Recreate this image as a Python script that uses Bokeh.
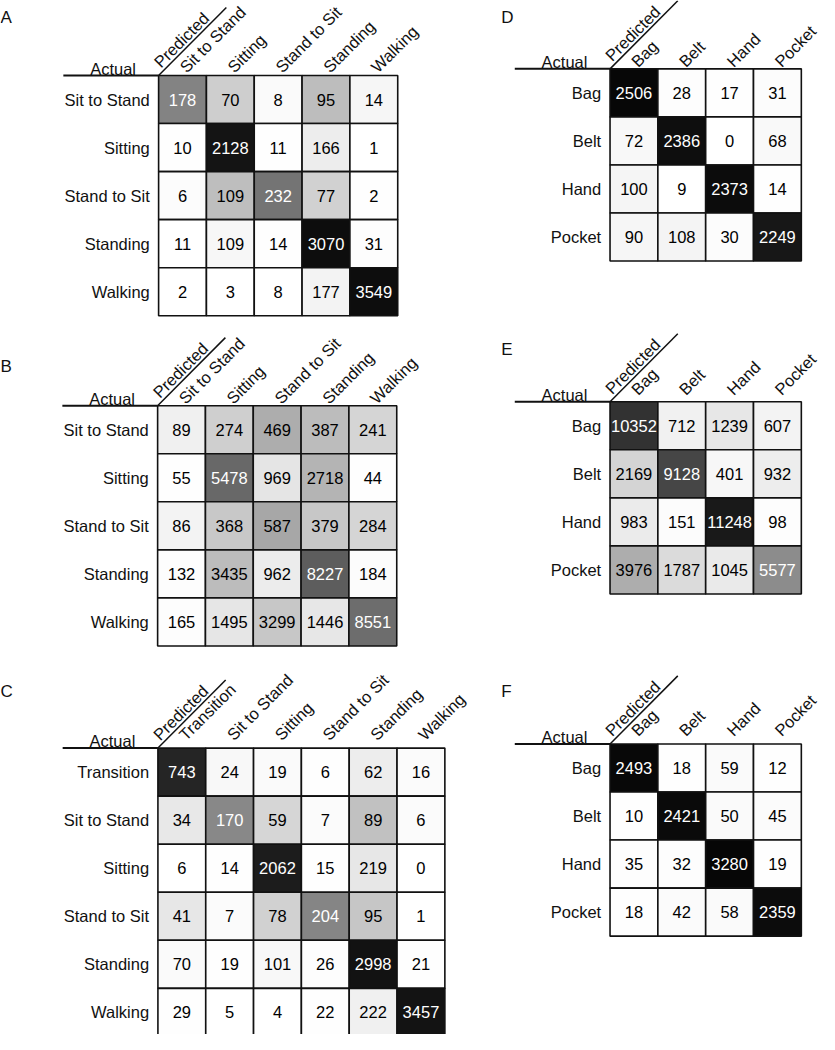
import math
from bokeh.plotting import figure
from bokeh.models import ColumnDataSource, Range1d, LinearColorMapper
from bokeh.core.properties import value
from bokeh.embed import file_html
from bokeh.resources import INLINE

# ---------------- data ----------------
activity5 = ["Sit to Stand", "Sitting", "Stand to Sit", "Standing", "Walking"]
activity6 = ["Transition", "Sit to Stand", "Sitting", "Stand to Sit", "Standing", "Walking"]
placement = ["Bag", "Belt", "Hand", "Pocket"]

counts_A = [[178, 70, 8, 95, 14],
            [10, 2128, 11, 166, 1],
            [6, 109, 232, 77, 2],
            [11, 109, 14, 3070, 31],
            [2, 3, 8, 177, 3549]]
counts_B = [[89, 274, 469, 387, 241],
            [55, 5478, 969, 2718, 44],
            [86, 368, 587, 379, 284],
            [132, 3435, 962, 8227, 184],
            [165, 1495, 3299, 1446, 8551]]
counts_C = [[743, 24, 19, 6, 62, 16],
            [34, 170, 59, 7, 89, 6],
            [6, 14, 2062, 15, 219, 0],
            [41, 7, 78, 204, 95, 1],
            [70, 19, 101, 26, 2998, 21],
            [29, 5, 4, 22, 222, 3457]]
counts_D = [[2506, 28, 17, 31],
            [72, 2386, 0, 68],
            [100, 9, 2373, 14],
            [90, 108, 30, 2249]]
counts_E = [[10352, 712, 1239, 607],
            [2169, 9128, 401, 932],
            [983, 151, 11248, 98],
            [3976, 1787, 1045, 5577]]
counts_F = [[2493, 18, 59, 12],
            [10, 2421, 50, 45],
            [35, 32, 3280, 19],
            [18, 42, 58, 2359]]

# ---------------- layout (reference pixel space) ----------------
FONT = value("Liberation Sans")
FS = "16.5px"
CELL = 48.7
INK = "#111111"

panels = [
    dict(letter="A", labels=activity5, counts=counts_A, gx=163.0, gy=76.0, lx=2, ly=17.5, gap=6),
    dict(letter="B", labels=activity5, counts=counts_B, gx=162.0, gy=410.7, lx=2, ly=370.5, gap=5),
    dict(letter="C", labels=activity6, counts=counts_C, gx=162.3, gy=757.7, lx=2, ly=700.0, gap=11),
    dict(letter="D", labels=placement, counts=counts_D, gx=622.7, gy=69.3, lx=512, ly=17.0, gap=5),
    dict(letter="E", labels=placement, counts=counts_E, gx=622.7, gy=406.7, lx=512, ly=353.5, gap=10),
    dict(letter="F", labels=placement, counts=counts_F, gx=622.7, gy=753.5, lx=512, ly=700.0, gap=11),
]

grays = ["#%02x%02x%02x" % (v, v, v) for v in range(255, -1, -1)]
mapper = LinearColorMapper(palette=grays, low=0.0, high=1.0)

p = figure(width=819, height=1034, x_range=Range1d(2, 836), y_range=Range1d(1048, 0),
           output_backend="svg", toolbar_location=None, min_border=0,
           x_axis_type=None, y_axis_type=None)
p.grid.visible = False
p.outline_line_color = None
p.background_fill_color = "white"
p.border_fill_color = "white"

ang = math.pi / 4

for pan in panels:
    labels = pan["labels"]
    counts = pan["counts"]
    n = len(labels)
    gx, gy = pan["gx"], pan["gy"]

    xs, ys, fr, txt, tc = [], [], [], [], []
    for i in range(n):
        tot = float(sum(counts[i]))
        for j in range(n):
            f = counts[i][j] / tot
            xs.append(gx + (j + 0.5) * CELL)
            ys.append(gy + (i + 0.5) * CELL)
            fr.append(f)
            txt.append(str(counts[i][j]))
            tc.append("white" if f > 0.4 else "black")
    src = ColumnDataSource(dict(x=xs, y=ys, frac=fr, txt=txt, tc=tc))
    p.rect(x="x", y="y", width=CELL, height=CELL, source=src,
           fill_color={"field": "frac", "transform": mapper},
           line_color=INK, line_width=1.6)
    p.text(x="x", y="y", text="txt", source=src, text_color="tc",
           text_align="center", text_baseline="middle",
           text_font=FONT, text_font_size=FS)

    # row labels (Actual)
    rsrc = ColumnDataSource(dict(x=[gx - 9] * n,
                                 y=[gy + (i + 0.5) * CELL for i in range(n)],
                                 t=labels))
    p.text(x="x", y="y", text="t", source=rsrc, text_align="right",
           text_baseline="middle", text_font=FONT, text_font_size=FS,
           text_color=INK)

    # column labels (Predicted), rotated 45 degrees
    csrc = ColumnDataSource(dict(x=[gx + (j + 0.5) * CELL for j in range(n)],
                                 y=[gy - pan["gap"]] * n, t=labels))
    p.text(x="x", y="y", text="t", source=csrc, angle=ang, text_align="left",
           text_baseline="alphabetic", text_font=FONT, text_font_size=FS,
           text_color=INK)

    # header: Actual / Predicted with lines
    p.text(x=[gx - 23], y=[gy - 7], text=["Actual"], text_align="right",
           text_baseline="alphabetic", text_font=FONT, text_font_size=FS,
           text_color=INK)
    p.text(x=[gx - 2], y=[gy - 11], text=["Predicted"], angle=ang, text_align="left",
           text_baseline="alphabetic", text_font=FONT, text_font_size=FS,
           text_color=INK)
    p.segment(x0=[gx - 97], y0=[gy], x1=[gx], y1=[gy], line_color=INK, line_width=2)
    p.segment(x0=[gx], y0=[gy], x1=[gx + 69], y1=[gy - 69], line_color=INK, line_width=1.5)

    # panel letter
    p.text(x=[pan["lx"]], y=[pan["ly"]], text=[pan["letter"]], text_align="left",
           text_baseline="alphabetic", text_font=FONT, text_font_size="17px",
           text_color=INK)

open("out.html", "w").write(file_html(p, INLINE))
